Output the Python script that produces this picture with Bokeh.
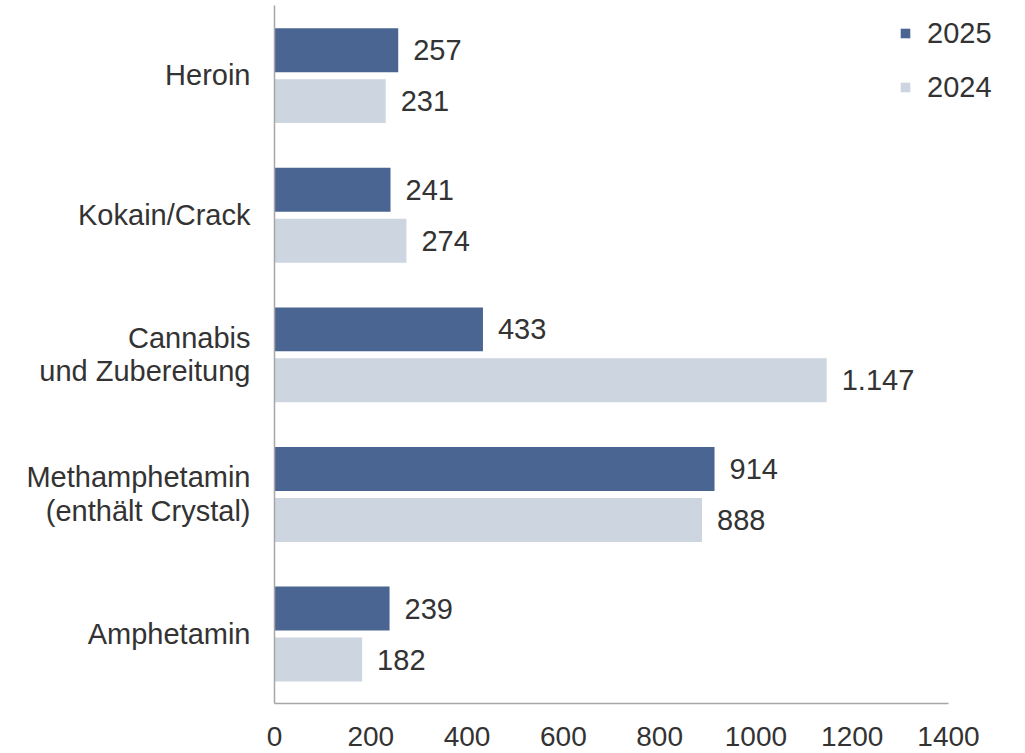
from bokeh.plotting import figure
from bokeh.models import ColumnDataSource, FactorRange, Legend, LegendItem, Range1d
from bokeh.transform import dodge
from bokeh.core.properties import value
from bokeh.embed import file_html
from bokeh.resources import INLINE

categories = ["Heroin", "Kokain/Crack", "Cannabis\nund Zubereitung",
              "Methamphetamin\n(enthält Crystal)", "Amphetamin"]
values_2025 = [257, 241, 433, 914, 239]
values_2024 = [231, 274, 1147, 888, 182]
x_ticks = [0, 200, 400, 600, 800, 1000, 1200, 1400]
x_max = 1400

DARK = "#4a6591"
LIGHT = "#cdd5e0"
TEXT = "#333333"
FONT = "Liberation Sans"

def de_fmt(v):
    return f"{v:,}".replace(",", ".")

src = ColumnDataSource(dict(
    cat=categories,
    v25=values_2025,
    v24=values_2024,
    l25=[de_fmt(v) for v in values_2025],
    l24=[de_fmt(v) for v in values_2024],
))

W, H = 1020, 750
left_b, right_b, top_b = 274, 5, 5
axis_px = 674  # pixels between 0 and 1400 on the x axis
frame_w = W - left_b - right_b
x_end = x_max * frame_w / axis_px
frame_bottom = 703

p = figure(width=W, height=H, output_backend="svg", toolbar_location=None,
           y_range=FactorRange(factors=list(reversed(categories))),
           x_range=Range1d(0, x_end),
           min_border_left=left_b, min_border_right=right_b, min_border_top=top_b,
           min_border_bottom=H - frame_bottom)

r25 = p.hbar(y=dodge("cat", 0.18, range=p.y_range), right="v25", left=0, height=0.315,
             source=src, fill_color=DARK, line_color=None)
r24 = p.hbar(y=dodge("cat", -0.185, range=p.y_range), right="v24", left=0, height=0.315,
             source=src, fill_color=LIGHT, line_color=None)

for col, lab, off in (("v25", "l25", 0.18), ("v24", "l24", -0.185)):
    p.text(x=col, y=dodge("cat", off, range=p.y_range), text=lab, source=src,
           x_offset=15, text_baseline="middle", text_align="left",
           text_font=value(FONT), text_font_size="29px", text_color=TEXT)

p.xgrid.visible = False
p.ygrid.visible = False
p.outline_line_color = None

p.xaxis.ticker = x_ticks
p.xaxis.bounds = (0, x_max)
p.xaxis.major_tick_line_color = None
p.xaxis.minor_tick_line_color = None
p.xaxis.axis_line_color = "#a6a6a6"
p.xaxis.axis_line_width = 1.5
p.xaxis.major_label_text_font = FONT
p.xaxis.major_label_text_font_size = "28px"
p.xaxis.major_label_text_color = TEXT
p.xaxis.major_label_standoff = 17

p.yaxis.major_tick_line_color = None
p.yaxis.minor_tick_line_color = None
p.yaxis.axis_line_color = "#a6a6a6"
p.yaxis.axis_line_width = 1.5
p.yaxis.major_label_text_font = FONT
p.yaxis.major_label_text_font_size = "29px"
p.yaxis.major_label_text_color = TEXT
p.yaxis.major_label_standoff = 18
p.yaxis.major_label_text_align = "right"
p.yaxis.major_label_text_line_height = 1.05

legend = Legend(items=[LegendItem(label="2025", renderers=[r25]),
                       LegendItem(label="2024", renderers=[r24])],
                location=(625, 599), orientation="vertical")
legend.label_text_font = FONT
legend.label_text_font_size = "29px"
legend.label_text_color = TEXT
legend.glyph_width = 12
legend.glyph_height = 12
legend.label_standoff = 16
legend.label_height = 34
legend.spacing = 20
legend.padding = 0
legend.margin = 0
legend.border_line_color = None
legend.background_fill_alpha = 0
p.add_layout(legend)

open("out.html", "w").write(file_html(p, INLINE))
